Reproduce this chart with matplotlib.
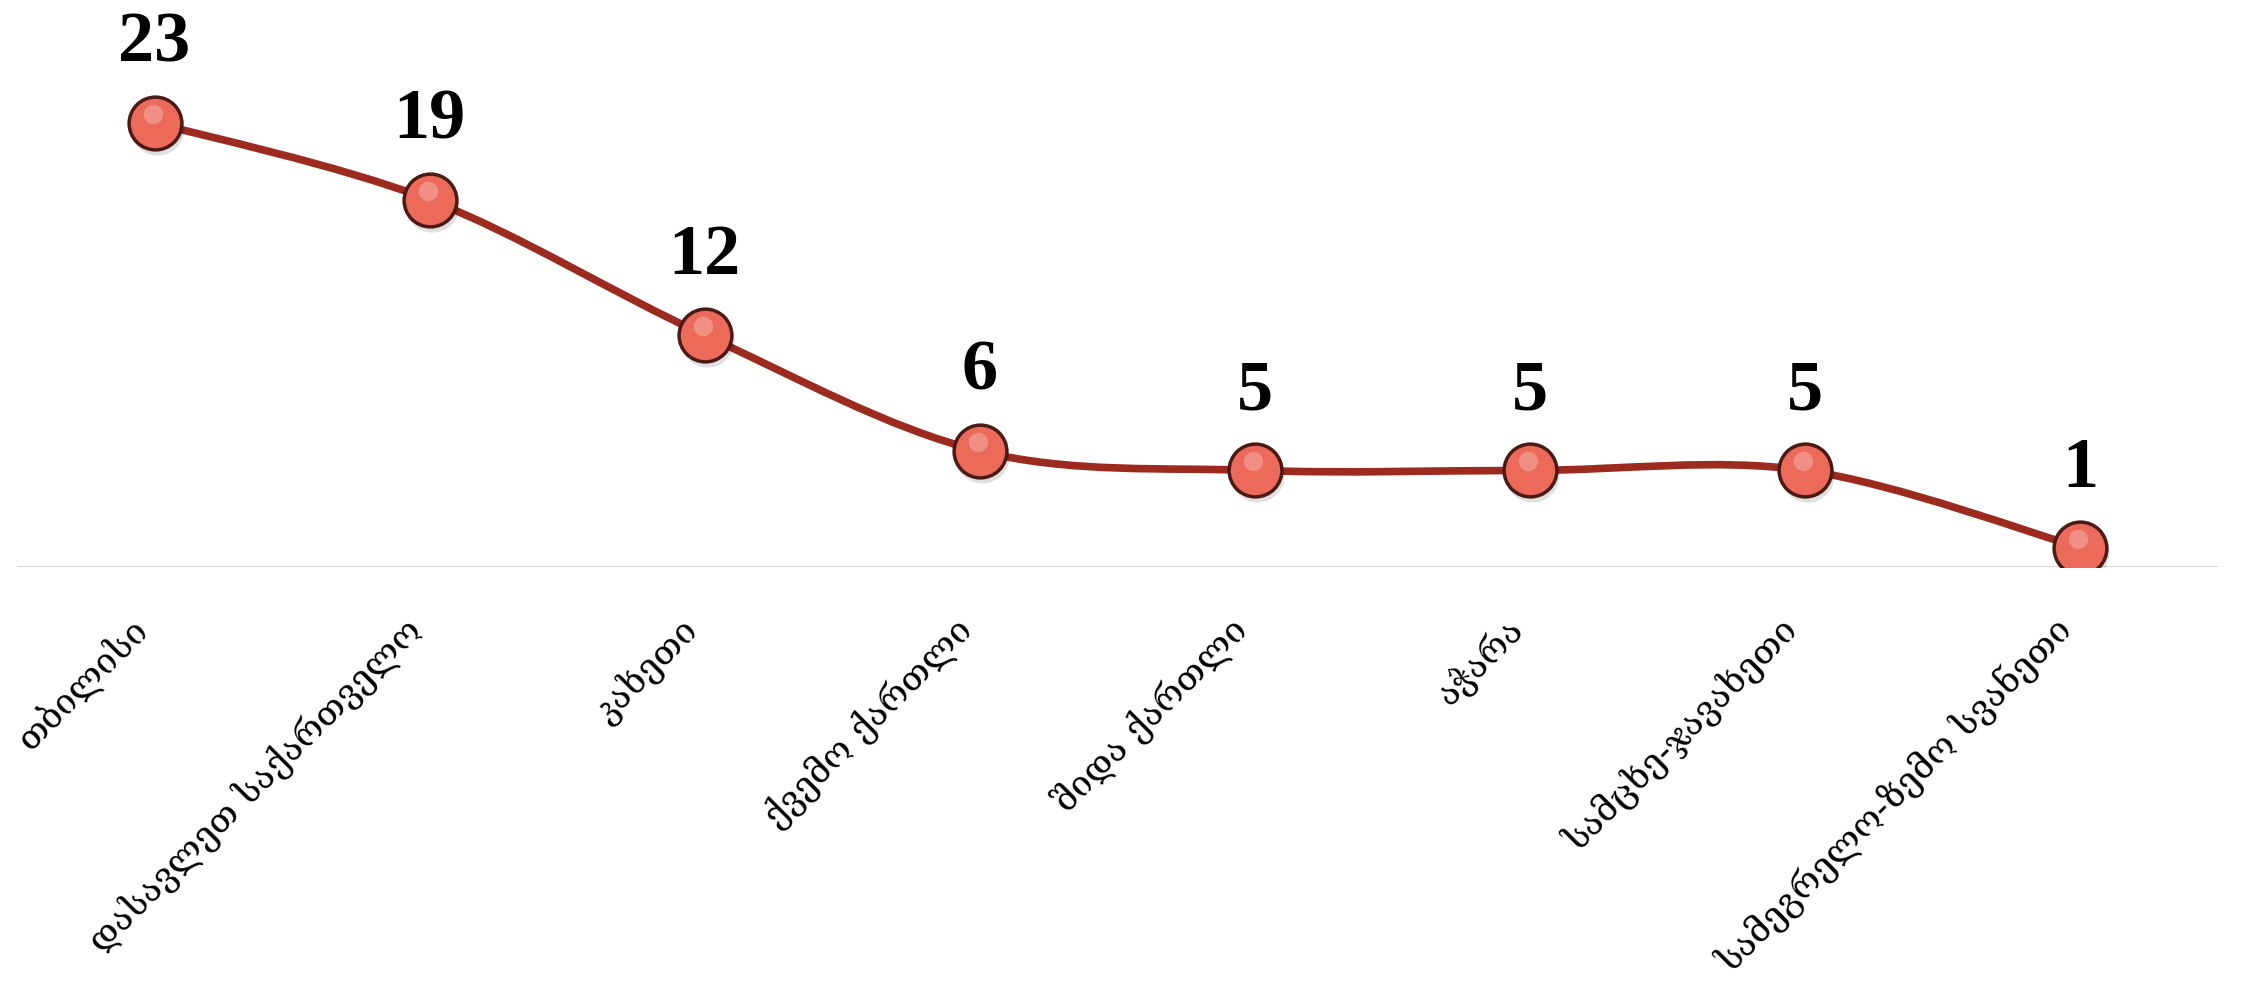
import matplotlib
matplotlib.use("Agg")
import matplotlib.pyplot as plt
from matplotlib.path import Path
from matplotlib.patches import PathPatch
from matplotlib.transforms import ScaledTranslation

# 数据：地区与数量
regions = ["თბილისი", "დასავლეთ საქართველო", "კახეთი", "ქვემო ქართლი",
           "შიდა ქართლი", "აჭარა", "სამცხე-ჯავახეთი", "სამეგრელო-ზემო სვანეთი"]
counts = [23, 19, 12, 6, 5, 5, 5, 1]

line_color = "#9C2A1E"
dot_color = "#EC6A5A"
dot_edge = "#4A1A14"

fig = plt.figure(figsize=(22.44, 9.88), dpi=100)
ax = fig.add_axes([0.0076, 0.4261, 0.9808, 0.5739])

xs = list(range(len(counts)))
ax.set_xlim(-0.5, len(counts) - 0.5)
ax.set_ylim(0, 29.35)

# 平滑曲线（类似 Excel 的平滑折线，Bezier 段）
verts = [(xs[0], counts[0])]
codes = [Path.MOVETO]
n = len(counts)
for i in range(n - 1):
    p0 = (xs[max(i - 1, 0)], counts[max(i - 1, 0)])
    p1 = (xs[i], counts[i])
    p2 = (xs[i + 1], counts[i + 1])
    p3 = (xs[min(i + 2, n - 1)], counts[min(i + 2, n - 1)])
    c1 = (p1[0] + (p2[0] - p0[0]) / 6, p1[1] + (p2[1] - p0[1]) / 6)
    c2 = (p2[0] - (p3[0] - p1[0]) / 6, p2[1] - (p3[1] - p1[1]) / 6)
    verts += [c1, c2, p2]
    codes += [Path.CURVE4] * 3
curve = PathPatch(Path(verts, codes), facecolor="none", edgecolor=line_color,
                  lw=5.5, capstyle="round", zorder=2)
ax.add_patch(curve)

# 基线
ax.axhline(0, color="#D9D9D9", lw=1.6, zorder=1)

# 阴影 + 圆点 + 高光
shadow = ax.transData + ScaledTranslation(0.02, -0.05, fig.dpi_scale_trans)
ax.plot(xs, counts, "o", ms=39, color="#000000", alpha=0.12, zorder=3,
        markeredgewidth=0, transform=shadow)
ax.plot(xs, counts, "o", ms=38, markerfacecolor=dot_color, markeredgecolor=dot_edge,
        markeredgewidth=2.5, zorder=4)
shine = ax.transData + ScaledTranslation(-0.02, 0.09, fig.dpi_scale_trans)
ax.plot(xs, counts, "o", ms=14, color="white", alpha=0.25, markeredgewidth=0, zorder=5,
        transform=shine)

# 数值标签
for x, v in zip(xs, counts):
    ax.annotate(str(v), (x, v), xytext=(0, 44), textcoords="offset points",
                ha="center", va="baseline", fontsize=52, fontweight="bold",
                family="Liberation Serif", color="black", zorder=6)

ax.set_xticks(xs)
ax.set_xticklabels(regions, rotation=45, ha="right", va="top",
                   fontsize=25.5, family=["DejaVu Serif", "DejaVu Sans"])
ax.tick_params(axis="x", length=0, pad=32)
ax.set_yticks([])
for s in ax.spines.values():
    s.set_visible(False)

fig.savefig("out.png", dpi=100)
